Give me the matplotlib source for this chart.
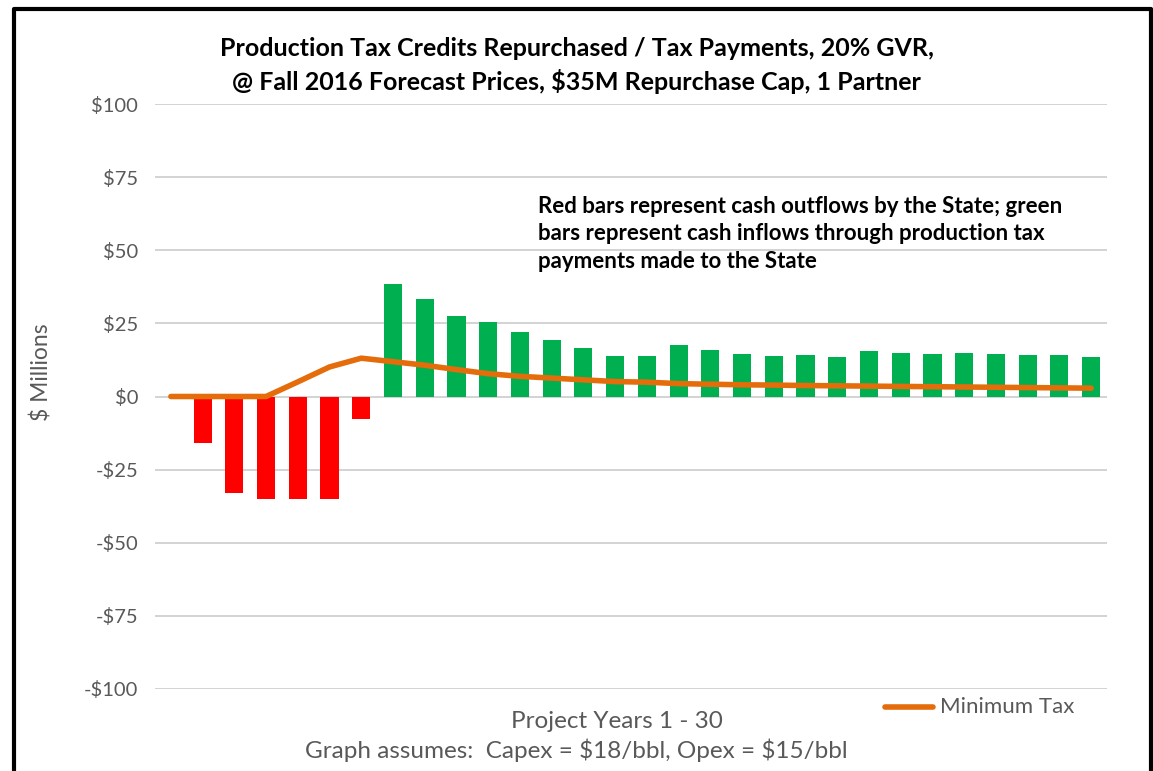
import matplotlib.pyplot as plt
from matplotlib.lines import Line2D

# data ($ millions), project years 1 - 30
years = list(range(1, 31))
repurchase = [0, -16, -33, -35, -35, -35, -7.6,
              38.6, 33.3, 27.4, 25.5, 22.2, 19.2, 16.5, 13.8, 14.0, 17.6,
              15.9, 14.7, 13.8, 14.1, 13.5, 15.6, 15.0, 14.6, 14.9, 14.6,
              14.2, 14.2, 13.5]
min_tax = [0, 0, 0, 0, 5.0, 10.1, 13.1, 11.9, 10.7, 9.2, 7.8, 6.9, 6.3,
           5.7, 5.1, 4.9, 4.4, 4.2, 4.0, 3.9, 3.75, 3.65, 3.55, 3.45, 3.35,
           3.25, 3.15, 3.05, 2.95, 2.85]
yticks = [-100, -75, -50, -25, 0, 25, 50, 75, 100]
ytick_labels = ['-\\$100', '-\\$75', '-\\$50', '-\\$25', '\\$0', '\\$25', '\\$50', '\\$75', '\\$100']

plt.rcParams['font.family'] = ['Lato', 'DejaVu Sans']

fig = plt.figure(figsize=(11.53, 7.71), dpi=100)
ax = fig.add_axes([155 / 1153, 1 - 689 / 771, 952 / 1153, 585 / 771])

colors = ['#FF0000' if v < 0 else '#00B050' for v in repurchase]
ax.bar(years, repurchase, width=0.57, color=colors, zorder=2)
ax.plot(years, min_tax, color='#E46C0A', lw=4, solid_capstyle='round', zorder=3)

ax.set_xlim(0.5, 30.5)
ax.set_ylim(-100, 100)
ax.set_yticks(yticks)
ax.set_yticklabels(ytick_labels, color='#595959', fontsize=14.5)
ax.set_xticks([])
ax.tick_params(axis='y', length=0, pad=12)
ax.grid(axis='y', color='#D0D0D0', lw=1.3, zorder=0)
for s in ax.spines.values():
    s.set_visible(False)

fig.text(42 / 1153, 1 - 372 / 771, '\\$ Millions', rotation=90, ha='center', va='center',
         color='#595959', fontsize=16.5)

fig.text(0.5, 1 - 48 / 771, 'Production Tax Credits Repurchased / Tax Payments, 20% GVR,',
         ha='center', va='center', fontsize=18, fontweight='bold')
fig.text(0.5, 1 - 82 / 771, '@ Fall 2016 Forecast Prices, \\$35M Repurchase Cap, 1 Partner',
         ha='center', va='center', fontsize=18, fontweight='bold')

fig.text(538 / 1153, 1 - 196 / 771,
         'Red bars represent cash outflows by the State; green\n'
         'bars represent cash inflows through production tax\n'
         'payments made to the State',
         ha='left', va='top', fontsize=16, fontweight='bold', linespacing=1.38)

fig.text(617 / 1153, 1 - 721 / 771, 'Project Years 1 - 30', ha='center', va='center',
         fontsize=17.5, color='#595959')
fig.text(576 / 1153, 1 - 750 / 771, 'Graph assumes:  Capex = \\$18/bbl, Opex = \\$15/bbl',
         ha='center', va='center', fontsize=17.5, color='#595959')

# legend
fig.add_artist(Line2D([885 / 1153, 933 / 1153], [1 - 707 / 771] * 2, color='#E46C0A',
                      lw=4, solid_capstyle='round'))
fig.text(940 / 1153, 1 - 707 / 771, 'Minimum Tax', ha='left', va='center',
         fontsize=16, color='#595959')

# frame around the chart
fig.add_artist(Line2D([14 / 1153, 14 / 1153, 1151 / 1153, 1151 / 1153],
                      [0, 1 - 9 / 771, 1 - 9 / 771, 0], color='black', lw=3))

fig.savefig('out.png', dpi=100)
